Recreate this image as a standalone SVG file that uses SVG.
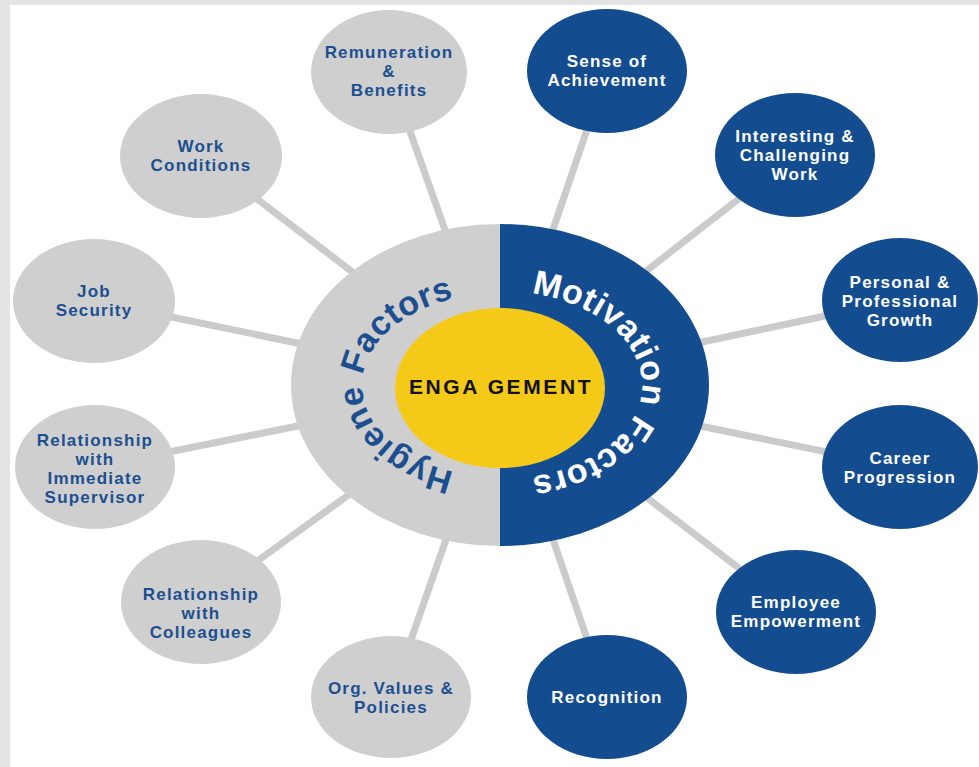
<svg xmlns="http://www.w3.org/2000/svg" width="979" height="767" viewBox="0 0 979 767">
  <defs>
    <style>
      .bg { fill: #e4e4e4; }
      .page { fill: #ffffff; }
      .conn { stroke: #cbcbcb; stroke-width: 7; fill: none; }
      .g { fill: #cfcfd0; }
      .b { fill: #134d8f; }
      .lbl { font-family: "Liberation Sans", Arial, sans-serif; font-weight: bold; font-size: 17px; letter-spacing: 1.2px; text-anchor: middle; }
      .lg { fill: #1c4f8f; }
      .lb { fill: #ffffff; }
      .arc { font-family: "Liberation Sans", Arial, sans-serif; font-weight: bold; font-size: 34px; letter-spacing: 0.5px; text-anchor: middle; }
    </style>
    <path id="hygPath" d="M 500,477 A 138,92 0 0 1 500,293"/>
    <path id="motPath" d="M 500,291 A 142,94 0 0 1 500,479"/>
  </defs>

  <rect class="bg" x="0" y="0" width="979" height="767"/>
  <rect class="page" x="10" y="5" width="969" height="762"/>

  <g id="connectors">
    <line class="conn" x1="500" y1="385" x2="389" y2="72"/>
    <line class="conn" x1="500" y1="385" x2="607" y2="71"/>
    <line class="conn" x1="500" y1="385" x2="795" y2="155"/>
    <line class="conn" x1="500" y1="385" x2="900" y2="300"/>
    <line class="conn" x1="500" y1="385" x2="900" y2="467"/>
    <line class="conn" x1="500" y1="385" x2="796" y2="612"/>
    <line class="conn" x1="500" y1="385" x2="607" y2="697"/>
    <line class="conn" x1="500" y1="385" x2="391" y2="697"/>
    <line class="conn" x1="500" y1="385" x2="201" y2="602"/>
    <line class="conn" x1="500" y1="385" x2="95" y2="467"/>
    <line class="conn" x1="500" y1="385" x2="94" y2="301"/>
    <line class="conn" x1="500" y1="385" x2="201" y2="156"/>
  </g>

  <g id="center">
    <path class="g" d="M 500,224 A 209,161 0 0 0 500,546 Z"/>
    <path class="b" d="M 500,224 A 209,161 0 0 1 500,546 Z"/>
    <text class="arc lg"><textPath href="#hygPath" startOffset="50%">Hygiene Factors</textPath></text>
    <text class="arc lb"><textPath href="#motPath" startOffset="50%">Motivation Factors</textPath></text>
    <ellipse cx="500" cy="388" rx="105" ry="80" fill="#f5c918"/>
    <text x="501" y="394" font-family="Liberation Sans, Arial, sans-serif" font-weight="bold" font-size="21" letter-spacing="2.6" text-anchor="middle" fill="#111111">ENGA GEMENT</text>
  </g>

  <g id="remuneration">
    <ellipse class="g" cx="389" cy="72" rx="78" ry="62"/>
    <text class="lbl lg" x="389" y="58">Remuneration</text>
    <text class="lbl lg" x="389" y="77">&amp;</text>
    <text class="lbl lg" x="389" y="96">Benefits</text>
  </g>
  <g id="sense">
    <ellipse class="b" cx="607" cy="71" rx="80" ry="62"/>
    <text class="lbl lb" x="607" y="67">Sense of</text>
    <text class="lbl lb" x="607" y="86">Achievement</text>
  </g>
  <g id="interesting">
    <ellipse class="b" cx="795" cy="155" rx="80" ry="62"/>
    <text class="lbl lb" x="795" y="142">Interesting &amp;</text>
    <text class="lbl lb" x="795" y="161">Challenging</text>
    <text class="lbl lb" x="795" y="180">Work</text>
  </g>
  <g id="personal">
    <ellipse class="b" cx="900" cy="300" rx="78" ry="62"/>
    <text class="lbl lb" x="900" y="288">Personal &amp;</text>
    <text class="lbl lb" x="900" y="307">Professional</text>
    <text class="lbl lb" x="900" y="326">Growth</text>
  </g>
  <g id="career">
    <ellipse class="b" cx="900" cy="467" rx="78" ry="62"/>
    <text class="lbl lb" x="900" y="464">Career</text>
    <text class="lbl lb" x="900" y="483">Progression</text>
  </g>
  <g id="employee">
    <ellipse class="b" cx="796" cy="612" rx="80" ry="62"/>
    <text class="lbl lb" x="796" y="608">Employee</text>
    <text class="lbl lb" x="796" y="627">Empowerment</text>
  </g>
  <g id="recognition">
    <ellipse class="b" cx="607" cy="697" rx="80" ry="62"/>
    <text class="lbl lb" x="607" y="703">Recognition</text>
  </g>
  <g id="org-values">
    <ellipse class="g" cx="391" cy="697" rx="80" ry="61"/>
    <text class="lbl lg" x="391" y="694">Org. Values &amp;</text>
    <text class="lbl lg" x="391" y="713">Policies</text>
  </g>
  <g id="colleagues">
    <ellipse class="g" cx="201" cy="602" rx="80" ry="62"/>
    <text class="lbl lg" x="201" y="600">Relationship</text>
    <text class="lbl lg" x="201" y="619">with</text>
    <text class="lbl lg" x="201" y="638">Colleagues</text>
  </g>
  <g id="supervisor">
    <ellipse class="g" cx="95" cy="467" rx="80" ry="62"/>
    <text class="lbl lg" x="95" y="446">Relationship</text>
    <text class="lbl lg" x="95" y="465">with</text>
    <text class="lbl lg" x="95" y="484">Immediate</text>
    <text class="lbl lg" x="95" y="503">Supervisor</text>
  </g>
  <g id="job-security">
    <ellipse class="g" cx="94" cy="301" rx="81" ry="62"/>
    <text class="lbl lg" x="94" y="297">Job</text>
    <text class="lbl lg" x="94" y="316">Security</text>
  </g>
  <g id="work-conditions">
    <ellipse class="g" cx="201" cy="156" rx="81" ry="62"/>
    <text class="lbl lg" x="201" y="152">Work</text>
    <text class="lbl lg" x="201" y="171">Conditions</text>
  </g>
</svg>
